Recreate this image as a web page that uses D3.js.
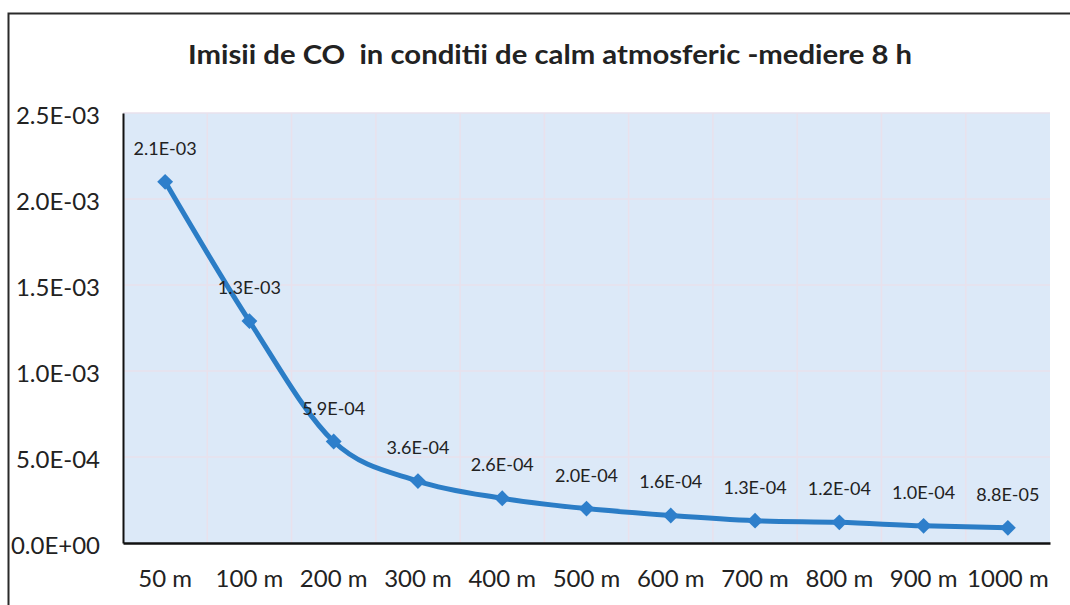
<!DOCTYPE html>
<html><head><meta charset="utf-8">
<script src="https://cdn.jsdelivr.net/npm/d3@7"></script>
<style>body{margin:0;background:#fff}svg{display:block}</style>
</head><body>
<script>
const categories = ["50 m","100 m","200 m","300 m","400 m","500 m","600 m","700 m","800 m","900 m","1000 m"];
const values = [2.1e-3,1.29e-3,5.9e-4,3.6e-4,2.6e-4,2.0e-4,1.6e-4,1.3e-4,1.2e-4,1.0e-4,8.8e-5];
const labels = ["2.1E-03","1.3E-03","5.9E-04","3.6E-04","2.6E-04","2.0E-04","1.6E-04","1.3E-04","1.2E-04","1.0E-04","8.8E-05"];
const yTicks = [0,5e-4,1e-3,1.5e-3,2e-3,2.5e-3];
const yTickLabels = ["0.0E+00","5.0E-04","1.0E-03","1.5E-03","2.0E-03","2.5E-03"];
const title = "Imisii de CO  in conditii de calm atmosferic -mediere 8 h";

const W=1070,H=605;
const font="Lato, 'Open Sans', sans-serif";
const svg=d3.select("body").append("svg").attr("width",W).attr("height",H);
svg.append("rect").attr("x",8.5).attr("y",13.5).attr("width",W+20).attr("height",H+20)
  .attr("fill","#fff").attr("stroke","#2a2a2a").attr("stroke-width",2);

const L=123,R=1050,T=113,B=543;
const x=d3.scaleBand().domain(categories).range([L,R]);
const y=d3.scaleLinear().domain([0,2.5e-3]).range([B,T]);

svg.append("rect").attr("x",L).attr("y",T).attr("width",R-L).attr("height",B-T).attr("fill","#dce9f8");

const g=svg.append("g");
g.selectAll("line.v").data(categories.slice(1)).enter().append("line")
  .attr("x1",d=>x(d)).attr("x2",d=>x(d)).attr("y1",T).attr("y2",B)
  .attr("stroke","#e9e1ec").attr("stroke-width",1.5);
g.selectAll("line.h").data(yTicks.slice(1)).enter().append("line")
  .attr("x1",L).attr("x2",R).attr("y1",d=>y(d)).attr("y2",d=>y(d))
  .attr("stroke","#e9e1ec").attr("stroke-width",1.5);

const yAxis=d3.axisLeft(y).tickValues(yTicks).tickSize(0).tickPadding(23).tickFormat((d,i)=>yTickLabels[i]);
const ya=svg.append("g").attr("transform",`translate(${L},0)`).call(yAxis);
ya.select(".domain").attr("stroke","#111").attr("stroke-width",2);
ya.selectAll("text").attr("font-family",font).attr("font-size",24).attr("fill","#222").attr("y",3);

const xAxis=d3.axisBottom(x).tickSize(0).tickPadding(27);
const xa=svg.append("g").attr("transform",`translate(0,${B})`).call(xAxis);
xa.select(".domain").attr("stroke","#111").attr("stroke-width",2.5);
xa.selectAll("text").attr("font-family",font).attr("font-size",24).attr("fill","#222");

const cx=d=>x(d)+x.bandwidth()/2;
const line=d3.line().x((d,i)=>cx(categories[i])).y(d=>y(d)).curve(d3.curveMonotoneX);
svg.append("path").datum(values).attr("d",line).attr("fill","none")
  .attr("stroke","#2b7dc6").attr("stroke-width",5);

svg.selectAll("path.m").data(values).enter().append("path")
  .attr("d",d3.symbol().type(d3.symbolDiamond2).size(160))
  .attr("transform",(d,i)=>`translate(${cx(categories[i])},${y(d)})`)
  .attr("fill","#2e7fcb");

svg.selectAll("text.lab").data(values).enter().append("text")
  .attr("x",(d,i)=>cx(categories[i])).attr("y",d=>y(d)-27)
  .attr("text-anchor","middle").attr("font-family",font).attr("font-size",18).attr("fill","#222")
  .text((d,i)=>labels[i]);

svg.append("text").attr("x",550).attr("y",64).attr("text-anchor","middle")
  .style("white-space","pre")
  .attr("textLength",724).attr("lengthAdjust","spacingAndGlyphs")
  .attr("font-family",font).attr("font-weight","bold").attr("font-size",26).attr("fill","#222")
  .text(title);
</script>
</body></html>
